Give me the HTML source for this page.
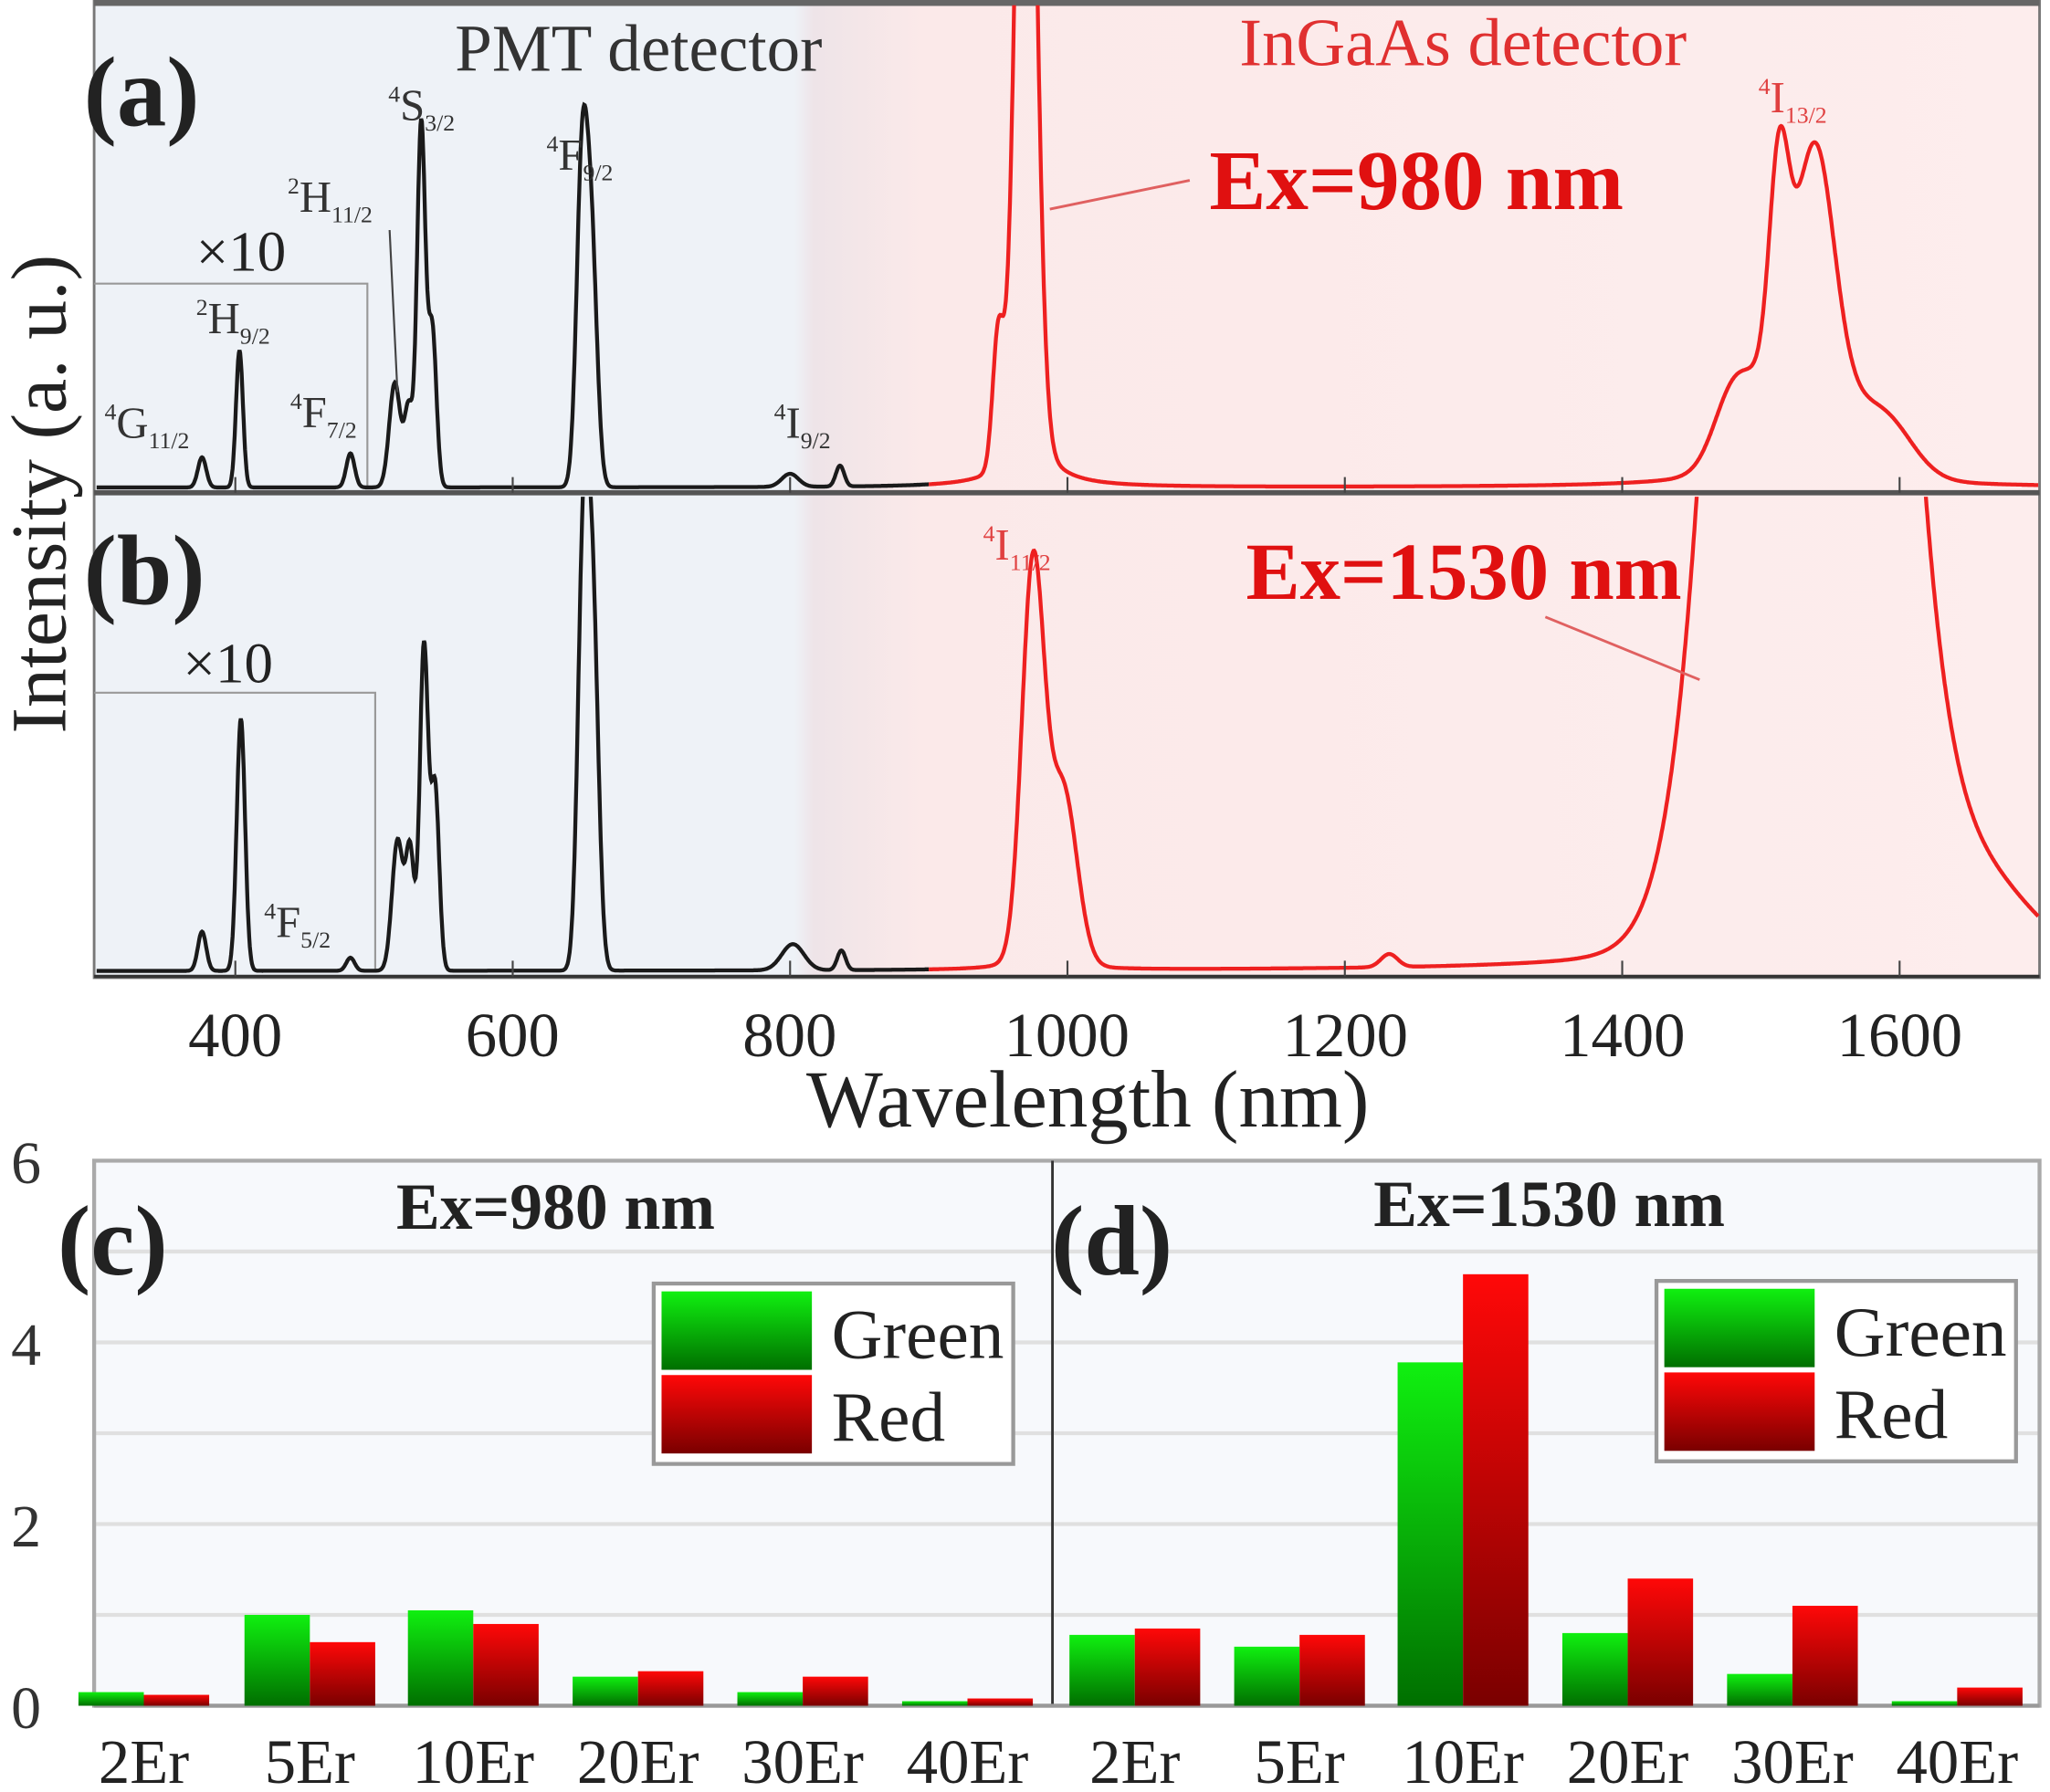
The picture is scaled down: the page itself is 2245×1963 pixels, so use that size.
<!DOCTYPE html>
<html><head><meta charset="utf-8"><style>
html,body{margin:0;padding:0;background:#fff}
svg{display:block}
text{font-family:"Liberation Serif",serif}
</style></head><body>
<svg id="s" width="2245" height="1963" viewBox="0 0 1568 1371" preserveAspectRatio="none" xmlns="http://www.w3.org/2000/svg">
<defs>
<linearGradient id="bg" x1="0" x2="1" y1="0" y2="0">
<stop offset="0" stop-color="#eef2f7"/><stop offset="0.36" stop-color="#eef2f7"/>
<stop offset="0.37" stop-color="#eee4e8"/><stop offset="0.425" stop-color="#fbe9e9"/><stop offset="1" stop-color="#fdeded"/>
</linearGradient>
<linearGradient id="gg" x1="0" x2="0" y1="0" y2="1"><stop offset="0" stop-color="#10f010"/><stop offset="1" stop-color="#006f00"/></linearGradient>
<linearGradient id="rg" x1="0" x2="0" y1="0" y2="1"><stop offset="0" stop-color="#ff0808"/><stop offset="1" stop-color="#7a0000"/></linearGradient>
<clipPath id="ca"><rect x="72" y="4" width="1488" height="372"/></clipPath>
<clipPath id="cb"><rect x="72" y="380" width="1488" height="366"/></clipPath>
</defs>
<rect x="72" y="0" width="1488" height="748" fill="url(#bg)"/>
<rect x="72" y="0" width="1488" height="748" fill="none" stroke="#777" stroke-width="2"/>
<line x1="72" y1="2" x2="1560" y2="2" stroke="#666" stroke-width="5"/>
<line x1="72" y1="377" x2="1560" y2="377" stroke="#555" stroke-width="4"/>
<line x1="72" y1="747" x2="1560" y2="747" stroke="#333" stroke-width="2.5"/>
<polyline points="72,217 281,217 281,373" fill="none" stroke="#999" stroke-width="1.5"/>
<polyline points="72,530 287,530 287,743" fill="none" stroke="#999" stroke-width="1.5"/>
<g id="spec"></g>
<g id="ticks" stroke="#444" stroke-width="1.5"></g>
<g font-size="48" fill="#222" text-anchor="middle">
<text x="180" y="808">400</text><text x="392" y="808">600</text><text x="604" y="808">800</text>
<text x="816" y="808">1000</text><text x="1029" y="808">1200</text><text x="1241" y="808">1400</text><text x="1453" y="808">1600</text>
</g>
<text x="832" y="862" font-size="62" fill="#222" text-anchor="middle">Wavelength  (nm)</text>
<text transform="translate(50,378) rotate(-90)" font-size="60" fill="#222" text-anchor="middle">Intensity  (a. u.)</text>
<text x="64" y="96" font-size="76" font-weight="bold" fill="#222">(a)</text>
<text x="64" y="462" font-size="76" font-weight="bold" fill="#222">(b)</text>
<text x="348" y="54" font-size="51" fill="#333">PMT detector</text>
<text x="948" y="50" font-size="52" fill="#e03030">InGaAs detector</text>
<text x="925" y="160" font-size="65" font-weight="bold" fill="#e01010">Ex=980 nm</text>
<line x1="803" y1="160" x2="910" y2="138" stroke="#e06060" stroke-width="2"/>
<text x="953" y="458" font-size="62" font-weight="bold" fill="#e01010">Ex=1530 nm</text>
<line x1="1300" y1="520" x2="1182" y2="472" stroke="#e06060" stroke-width="2"/>
<text x="150" y="207" font-size="44" fill="#222">×10</text>
<text x="140" y="522" font-size="44" fill="#222">×10</text>
<g font-size="34" fill="#333">
<text x="80" y="335"><tspan font-size="18" dy="-14">4</tspan><tspan dy="14">G</tspan><tspan font-size="18" dy="8">11/2</tspan></text>
<text x="150" y="255"><tspan font-size="18" dy="-14">2</tspan><tspan dy="14">H</tspan><tspan font-size="18" dy="8">9/2</tspan></text>
<text x="222" y="327"><tspan font-size="18" dy="-14">4</tspan><tspan dy="14">F</tspan><tspan font-size="18" dy="8">7/2</tspan></text>
<text x="220" y="162"><tspan font-size="18" dy="-14">2</tspan><tspan dy="14">H</tspan><tspan font-size="18" dy="8">11/2</tspan></text>
<text x="297" y="92"><tspan font-size="18" dy="-14">4</tspan><tspan dy="14">S</tspan><tspan font-size="18" dy="8">3/2</tspan></text>
<text x="418" y="130"><tspan font-size="18" dy="-14">4</tspan><tspan dy="14">F</tspan><tspan font-size="18" dy="8">9/2</tspan></text>
<text x="592" y="335"><tspan font-size="18" dy="-14">4</tspan><tspan dy="14">I</tspan><tspan font-size="18" dy="8">9/2</tspan></text>
<text x="202" y="717"><tspan font-size="18" dy="-14">4</tspan><tspan dy="14">F</tspan><tspan font-size="18" dy="8">5/2</tspan></text>
</g>
<line x1="298" y1="176" x2="304" y2="300" stroke="#444" stroke-width="1.5"/>
<g font-size="34" fill="#e04040">
<text x="1345" y="86"><tspan font-size="18" dy="-14">4</tspan><tspan dy="14">I</tspan><tspan font-size="18" dy="8">13/2</tspan></text>
<text x="752" y="428"><tspan font-size="18" dy="-14">4</tspan><tspan dy="14">I</tspan><tspan font-size="18" dy="8">11/2</tspan></text>
</g>
<rect x="72" y="888" width="1488" height="417" fill="#f7f9fc"/>
<g stroke="#e0e0e0" stroke-width="3" id="grid"></g>
<rect x="72" y="888" width="1488" height="417" fill="none" stroke="#aaa" stroke-width="3"/>
<line x1="805" y1="888" x2="805" y2="1305" stroke="#333" stroke-width="2"/>
<line x1="72" y1="1305" x2="1560" y2="1305" stroke="#999" stroke-width="3"/>
<g id="bars"></g>
<g font-size="46" fill="#333" text-anchor="middle">
<text x="20" y="1322">0</text><text x="20" y="1183">2</text><text x="20" y="1044">4</text><text x="20" y="905">6</text>
</g>
<g font-size="48" fill="#222" text-anchor="middle" id="cats"></g>
<text x="44" y="975" font-size="76" font-weight="bold" fill="#222">(c)</text>
<text x="804" y="975" font-size="76" font-weight="bold" fill="#222">(d)</text>
<text x="425" y="940" font-size="50" font-weight="bold" fill="#222" text-anchor="middle">Ex=980 nm</text>
<text x="1185" y="938" font-size="50" font-weight="bold" fill="#222" text-anchor="middle">Ex=1530 nm</text>
<g>
<rect x="500" y="982" width="275" height="138" fill="#fff" stroke="#999" stroke-width="3"/>
<rect x="506" y="988" width="115" height="60" fill="url(#gg)"/>
<rect x="506" y="1052" width="115" height="60" fill="url(#rg)"/>
<text x="636" y="1039" font-size="54" fill="#222">Green</text>
<text x="636" y="1102" font-size="54" fill="#222">Red</text>
<rect x="1267" y="980" width="275" height="138" fill="#fff" stroke="#999" stroke-width="3"/>
<rect x="1273" y="986" width="115" height="60" fill="url(#gg)"/>
<rect x="1273" y="1050" width="115" height="60" fill="url(#rg)"/>
<text x="1403" y="1037" font-size="54" fill="#222">Green</text>
<text x="1403" y="1100" font-size="54" fill="#222">Red</text>
</g>
</svg>
<script>
var NS="http://www.w3.org/2000/svg";
function X(l){return 180+(l-400)*1.0608;}
function g(l,c,s,a){var d=(l-c)/s;return a*Math.exp(-d*d/2);}
function lo(l,c,w,a){var d=(l-c)/w;return a/(1+d*d);}
function fa(l){return g(l,376,3,23)+g(l,403,2.5,105)+g(l,483,3,26)+g(l,515,4,80)+g(l,525,3,60)+g(l,534,3,278)+g(l,542,3,120)+g(l,650,4,243)+g(l,657,4,170)+g(l,800,6,10)+g(l,836,3,16)
 +g(l,970,7,700)+g(l,950,4,100)+lo(l,972,18,40)
 +g(l,1513,7,150)+g(l,1540,13,150)+g(l,1530,28,90)+g(l,1480,14,50)+lo(l,1525,45,30)+g(l,1590,20,40);}
function fb(l){return g(l,376,3,30)+g(l,404,3,193)+g(l,483,3,10)+g(l,517,4,100)+g(l,526,3,90)+g(l,536,3,248)+g(l,544,3,140)+g(l,651,4,320)+g(l,658,4,250)+g(l,802,8,20)+g(l,837,3,15)
 +g(l,975,8,290)+g(l,997,10,130)+lo(l,980,15,20)+g(l,1232,6,10)+g(l,1535,42,2200)+lo(l,1535,70,60)+g(l,1655,40,60);}
function path(f,base,a,b){var p="";for(var l=a;l<=b;l+=0.5){p+=(l==a?"M":"L")+X(l).toFixed(1)+","+(base-f(l)).toFixed(1);}return p;}
var sp=document.getElementById("spec");
function add(d,col,clip){var e=document.createElementNS(NS,"path");e.setAttribute("d",d);e.setAttribute("fill","none");e.setAttribute("stroke",col);e.setAttribute("stroke-width","3");e.setAttribute("clip-path","url(#"+clip+")");sp.appendChild(e);}
add(path(fa,373,300,900),"#1a1a1a","ca");add(path(fa,373,900,1700),"#ee2020","ca");
add(path(fb,743,300,900),"#1a1a1a","cb");add(path(fb,743,900,1700),"#ee2020","cb");
var tk=document.getElementById("ticks");
[400,600,800,1000,1200,1400,1600].forEach(function(l){[[377,365],[747,735]].forEach(function(y){var e=document.createElementNS(NS,"line");e.setAttribute("x1",X(l));e.setAttribute("x2",X(l));e.setAttribute("y1",y[0]);e.setAttribute("y2",y[1]);tk.appendChild(e);});});
var gr=document.getElementById("grid");
[1,2,3,4,5].forEach(function(v){var y=1305-v*69.5;var e=document.createElementNS(NS,"line");e.setAttribute("x1",72);e.setAttribute("x2",1560);e.setAttribute("y1",y);e.setAttribute("y2",y);gr.appendChild(e);});
var br=document.getElementById("bars"),ct=document.getElementById("cats");
var names=["2Er","5Er","10Er","20Er","30Er","40Er"];
function bars(cs,gv,rv){cs.forEach(function(c,i){[[gv[i],c-50,"gg"],[rv[i],c,"rg"]].forEach(function(b){var h=b[0]*69.5;var e=document.createElementNS(NS,"rect");e.setAttribute("x",b[1]);e.setAttribute("y",1305-h);e.setAttribute("width",50);e.setAttribute("height",h);e.setAttribute("fill","url(#"+b[2]+")");br.appendChild(e);});
var t=document.createElementNS(NS,"text");t.setAttribute("x",c);t.setAttribute("y",1364);t.textContent=names[i];ct.appendChild(t);});}
bars([110,237,362,488,614,740],[0.15,1.0,1.05,0.32,0.15,0.05],[0.12,0.7,0.9,0.38,0.32,0.08]);
bars([868,994,1119,1245,1371,1497],[0.78,0.65,3.78,0.8,0.35,0.05],[0.85,0.78,4.75,1.4,1.1,0.2]);
</script>
</body></html>
